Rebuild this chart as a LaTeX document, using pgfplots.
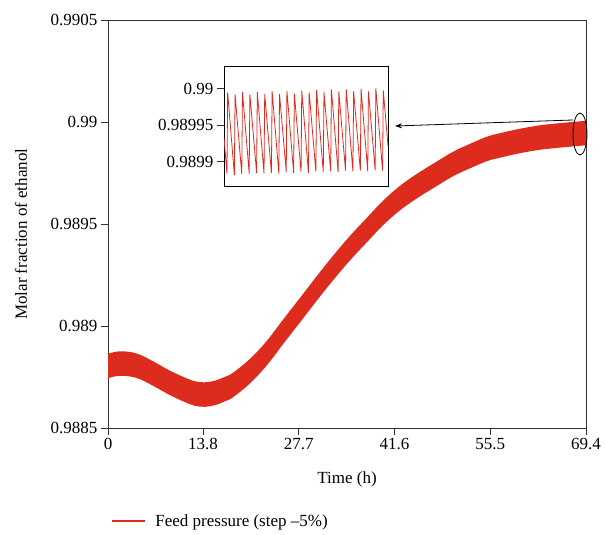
\documentclass[border=0pt]{standalone}
\usepackage{fontspec}
\setmainfont{Liberation Serif}
\usepackage{pgfplots}
\usepackage{pgfplotstable}
\pgfplotsset{compat=1.18}
\usepgfplotslibrary{fillbetween}
\usetikzlibrary{arrows.meta}
\definecolor{bandred}{RGB}{221,43,29}
\definecolor{axgray}{RGB}{50,50,50}

\pgfplotstableread{
t      u         l
0      0.988864  0.988744
1.16   0.988874  0.988754
2.18   0.988876  0.988756
3.48   0.988871  0.988751
4.65   0.988859  0.988739
6.10   0.988835  0.988715
7.55   0.988808  0.988688
9.00   0.988781  0.988661
10.89  0.988751  0.988631
12.63  0.988729  0.988609
14.08  0.988724  0.988604
15.54  0.988732  0.988612
16.99  0.988751  0.988631
18.15  0.988771  0.988651
20.62  0.988839  0.988719
23.08  0.988928  0.988808
25.41  0.989031  0.988911
27.88  0.989138  0.989018
30.35  0.989246  0.989126
32.67  0.989344  0.989224
35.14  0.989442  0.989322
37.60  0.989531  0.989411
39.93  0.989614  0.989494
42.39  0.989687  0.989567
44.86  0.989746  0.989626
47.19  0.989795  0.989675
50.09  0.989854  0.989734
52.56  0.989893  0.989773
55.02  0.989928  0.989808
56.91  0.989945  0.989825
59.82  0.989967  0.989847
62.72  0.989984  0.989864
64.61  0.989991  0.989871
67.08  0.989999  0.989879
69.40  0.990006  0.989886
}\band

\pgfplotstableread{
x      y
0      0.989933
3.0    0.989884
3.7    0.989995
10.5   0.989882
11.2   0.989992
18.0   0.989883
18.7   0.9899954
25.5   0.989884
26.2   0.989992
33.0   0.989885
33.7   0.9899954
40.5   0.989884
41.2   0.9899927
48.0   0.989885
48.7   0.9899963
55.5   0.989884
56.2   0.9899927
63.0   0.989886
63.7   0.9899968
70.5   0.989885
71.2   0.9899932
78.0   0.989886
78.7   0.9899977
85.5   0.989885
86.2   0.989995
93.0   0.989887
93.7   0.9899982
100.5  0.989886
101.2  0.9899954
108.0  0.989887
108.7  0.9899991
115.5  0.989886
116.2  0.9899963
123.0  0.989888
123.7  0.9899995
130.5  0.989887
131.2  0.9899963
138.0  0.989888
138.7  0.9900000
145.5  0.989887
146.2  0.9899963
153.0  0.989889
153.7  0.9900005
160.5  0.989888
161.2  0.9899977
166    0.989922
}\zoomdata

\begin{document}
\begin{tikzpicture}[font=\fontsize{17}{20}\selectfont]
\begin{axis}[
  at={(0pt,0pt)}, anchor=south west,
  scale only axis, width=478pt, height=408pt,
  xmin=0, xmax=69.4, ymin=0.9885, ymax=0.9905,
  xtick={0,13.8,27.7,41.6,55.5,69.4},
  xticklabels={0,13.8,27.7,41.6,55.5,69.4},
  ytick={0.9885,0.989,0.9895,0.99,0.9905},
  yticklabels={0.9885,0.989,0.9895,0.99,0.9905},
  /pgf/number format/assume math mode=true,
  tick align=outside, tick pos=left, major tick length=7pt,
  axis line style={axgray, line width=0.8pt},
  tick style={axgray, line width=0.8pt},
  xlabel={Time (h)},
  ylabel={Molar fraction of ethanol},
  xlabel style={at={(axis description cs:0.5,-0.127)}, anchor=center},
  ylabel style={at={(axis description cs:-0.182,0.475)}, anchor=center},
  legend style={at={(axis description cs:0,-0.228)}, anchor=west, draw=white, fill=white},
  legend cell align=left,
]
\addplot[name path=U, draw=none, smooth, tension=0.6, forget plot] table[x=t, y=u] {\band};
\addplot[name path=L, draw=none, smooth, tension=0.6, forget plot] table[x=t, y=l] {\band};
\addplot[bandred, draw=none, forget plot] fill between[of=U and L];
\addlegendimage{draw=bandred, line width=1.2pt, legend image code/.code={\draw[draw=bandred, line width=1.2pt] (0pt,0pt) -- (33pt,0pt);}}
\addlegendentry{\hspace{8pt}Feed pressure (step \textendash5\%)}
\end{axis}
\draw[black, line width=0.8pt] (472pt,294pt) ellipse [x radius=7pt, y radius=21pt];
\draw[black, line width=0.8pt, -{Stealth[length=7pt,width=5pt]}] (465pt,308pt) -- (287pt,302pt);
\begin{axis}[
  at={(116pt,242pt)}, anchor=south west,
  scale only axis, width=164pt, height=120pt,
  xmin=0, xmax=166, ymin=0.989867, ymax=0.990031,
  xtick=\empty,
  ytick={0.9899,0.98995,0.99},
  yticklabels={0.9899,0.98995,0.99},
  /pgf/number format/assume math mode=true,
  tick align=outside, ytick pos=left, major tick length=7pt,
  axis line style={black, line width=0.8pt},
  tick style={axgray, line width=0.8pt},
  axis background/.style={fill=white},
]
\addplot[bandred, line width=0.8pt, mark=none] table[x=x, y=y] {\zoomdata};
\end{axis}
\pgfresetboundingbox
\useasboundingbox (-108pt,-107pt) rectangle (497pt,428pt);
\end{tikzpicture}
\end{document}
